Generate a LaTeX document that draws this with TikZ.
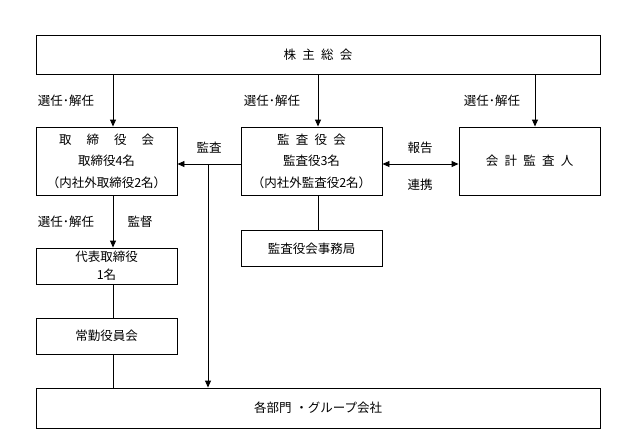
\documentclass[tikz,border=0pt]{standalone}
\usepackage{fontspec}
\setmainfont{Noto Sans CJK JP}
\usetikzlibrary{arrows.meta}

\tikzset{
  box/.style={draw, line width=0.9pt, inner sep=0pt, align=center, font=\fontsize{12.5}{21.5}\selectfont},
  lbl/.style={inner sep=0pt, font=\fontsize{12.5}{14}\selectfont},
  arr/.style={-{Triangle[length=7pt,width=6pt]}, line width=0.9pt},
  ln/.style={line width=0.9pt}
}

\begin{document}
\begin{tikzpicture}[x=1pt,y=-1pt]
      \useasboundingbox (0,0) rectangle (636,447);
      \node [box, minimum width=564pt, minimum height=39pt] (meeting) at (318,54.5) {株\hspace{0.5em}主\hspace{0.5em}総\hspace{0.5em}会};
      % row 2
      \node [box, minimum width=141pt, minimum height=68pt] (board) at (106.5,161) {取\hspace{1.2em}締\hspace{1.2em}役\hspace{1.2em}会\\取締役4名\\（内社外取締役2名）};
      \node [box, minimum width=141pt, minimum height=68pt] (audit) at (311.5,161) {監\hspace{0.5em}査\hspace{0.5em}役\hspace{0.5em}会\\監査役3名\\（内社外監査役2名）};
      \node [box, minimum width=141pt, minimum height=68pt] (cpa) at (529.5,161) {会\hspace{0.5em}計\hspace{0.5em}監\hspace{0.5em}査\hspace{0.5em}人};
      % row 3
      \node [box, minimum width=141pt, minimum height=36pt] (office) at (311.5,248.5) {監査役会事務局};
      \node [box, minimum width=141pt, minimum height=36pt, font=\fontsize{12.5}{18}\selectfont] (ceo) at (106.5,266) {代表取締役\\1名};
      \node [box, minimum width=141pt, minimum height=36pt] (exec) at (106.5,336) {常勤役員会};
      % row 4
      \node [box, minimum width=564pt, minimum height=40pt] (group) at (318,408) {各部門\hspace{0.3em}・グループ会社};
      \coordinate (tap) at (208,164);

      % labels
      \node [lbl] (l1) at (66,101) {選任･解任};
      \node [lbl] (l2) at (272,101) {選任･解任};
      \node [lbl] (l3) at (492,101) {選任･解任};
      \node [lbl] (l4) at (209,148) {監査};
      \node [lbl] (l5) at (420,148) {報告};
      \node [lbl] (l6) at (420,185) {連携};
      \node [lbl] (l7) at (66,222) {選任･解任};
      \node [lbl] (l8) at (140,222) {監督};

      % links
      \draw [arr] (113,74) -- (board.north -| 113,0);
      \draw [arr] (318,74) -- (audit.north -| 318,0);
      \draw [arr] (535,74) -- (cpa.north -| 535,0);
      \draw [arr] (audit.west |- tap) -- (board.east |- tap);
      \draw [arr] (tap) -- (group.north -| tap);
      \draw [arr, {Triangle[length=7pt,width=6pt]}-{Triangle[length=7pt,width=6pt]}] (audit.east |- tap) -- (cpa.west |- tap);
      \draw [ln] (audit.south -| 318,0) -- (office.north -| 318,0);
      \draw [arr] (board.south -| 113,0) -- (ceo.north -| 113,0);
      \draw [ln] (ceo.south -| 113,0) -- (exec.north -| 113,0);
      \draw [ln] (exec.south -| 113,0) -- (group.north -| 113,0);
    \end{tikzpicture}
\end{document}
